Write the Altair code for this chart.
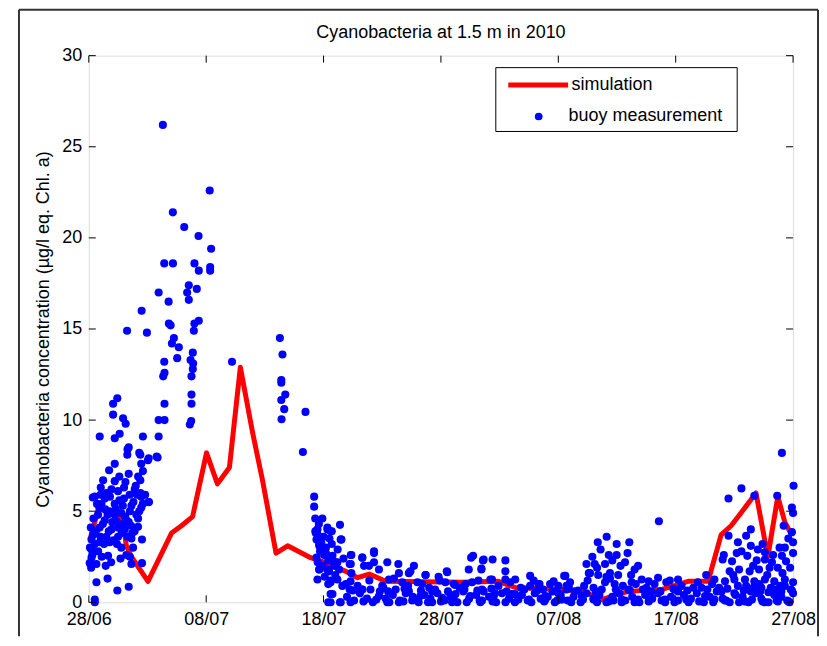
import altair as alt
import pandas as pd

# ---------------- data (days since 28/06/2010) ----------------
chart_title = "Cyanobacteria at 1.5 m in 2010"
x_tick_days = [0, 10, 20, 30, 40, 50, 60]
x_tick_labels = ["28/06", "08/07", "18/07", "28/07", "07/08", "17/08", "27/08"]
y_tick_values = [0, 5, 10, 15, 20, 25, 30]

sim_day = [0.1, 0.8, 2.5, 3.0, 3.2, 3.63, 5.04, 7.05, 7.9, 8.84, 10.03, 10.96, 11.98,
           12.91, 13.96, 14.8, 15.95, 16.94, 18.9, 20.05, 21.9, 22.9, 23.9, 25.3, 31.8,
           34.9, 36.4, 40.3, 42.3, 43.67, 45.96, 48.77, 51.06, 52.76, 53.87, 54.72,
           55.56, 56.84, 57.85, 58.7, 59.3, 59.8]
sim_val = [3.45, 5.1, 5.0, 4.0, 3.1, 2.5, 1.15, 3.8, 4.2, 4.7, 8.2, 6.5, 7.4,
           12.9, 9.3, 6.7, 2.7, 3.1, 2.45, 2.2, 1.7, 1.35, 1.55, 1.15, 1.1,
           1.15, 0.8, 0.7, 0.55, 0.15, 0.6, 0.7, 1.15, 1.15, 3.7, 4.2,
           4.9, 6.0, 2.5, 5.8, 4.4, 3.8]

buoy_early_high = [
    [6.31, 26.2], [10.3, 22.6], [7.16, 21.4], [8.13, 20.6], [9.35, 20.1], [10.42, 19.4],
    [6.43, 18.6], [7.17, 18.6], [9.0, 18.6], [9.37, 18.2], [10.34, 18.4], [10.34, 18.2],
    [8.52, 17.4], [9.2, 17.2], [8.38, 17.0], [8.52, 16.6], [5.95, 17.0], [6.8, 16.5],
    [4.5, 16.0], [6.82, 15.3], [6.97, 15.2], [9.0, 15.3], [9.37, 15.45], [8.95, 14.9],
    [3.26, 14.9], [4.95, 14.8], [7.25, 14.5], [7.08, 14.2], [7.67, 14.0], [8.86, 13.7],
    [6.43, 13.2], [7.53, 13.4], [8.67, 13.3], [8.89, 13.1], [8.86, 12.8], [6.45, 12.6],
    [6.34, 12.4], [8.75, 12.4], [12.2, 13.2], [8.75, 11.4], [8.75, 10.9], [6.45, 10.9],
    [2.43, 11.2], [2.07, 10.9], [2.07, 10.3], [2.92, 10.1], [3.14, 9.8], [5.95, 10.0],
    [6.45, 10.0], [8.72, 9.95], [8.61, 9.76], [0.93, 9.1], [2.21, 9.0], [2.63, 9.25],
    [4.61, 9.1], [5.95, 9.1], [3.4, 8.5],
]

buoy_early_cluster = [
    [3.28, 8.1], [4.39, 8.1], [5.04, 7.8], [5.78, 8.0], [4.47, 7.6], [2.21, 7.6],
    [1.73, 7.25], [4.61, 7.2], [3.4, 7.05], [1.22, 6.7], [2.21, 6.65], [3.12, 6.6],
    [4.39, 6.7], [1.02, 6.3], [1.93, 6.2], [2.49, 6.1], [3.91, 6.2], [3.48, 5.9],
    [0.51, 5.8], [1.36, 5.7], [3.0, 5.7], [4.47, 5.8], [5.12, 5.5], [1.08, 5.4],
    [2.21, 5.4], [3.63, 5.3], [4.47, 5.2], [1.78, 5.0], [2.77, 4.9], [4.05, 4.8],
    [0.79, 4.8], [1.36, 4.5], [3.2, 4.5], [2.35, 4.45], [0.17, 4.1], [0.93, 4.1],
    [1.93, 4.0], [3.06, 4.0], [4.19, 4.15], [0.37, 3.7], [1.5, 3.6], [2.49, 3.6],
    [3.63, 3.5], [4.53, 3.45], [0.23, 3.45], [0.93, 3.3], [1.78, 3.3], [2.77, 3.0],
    [3.77, 3.0], [0.23, 2.9], [0.79, 2.8], [1.64, 2.55], [3.2, 2.6], [0.23, 2.45],
    [0.65, 2.1], [1.44, 2.0], [3.63, 2.1], [4.53, 2.15], [0.08, 2.15], [0.65, 1.1],
    [2.43, 0.65], [3.4, 0.85], [0.51, 0.15], [0.51, 0.0], [0.34, 5.75], [5.1, 7.9],
    [5.86, 7.95], [4.3, 8.2], [3.3, 8.4], [5.1, 5.5],
    [0.4, 4.6], [0.6, 3.9], [0.9, 5.2], [1.2, 4.3], [1.3, 3.2], [1.6, 4.8], [1.8, 5.8],
    [2.0, 4.4], [2.1, 3.4], [2.3, 5.1], [2.5, 4.1], [2.6, 5.6], [2.8, 3.8], [2.9, 5.3],
    [3.1, 4.7], [3.3, 3.6], [3.5, 5.0], [3.6, 4.2], [3.8, 5.5], [3.9, 3.9], [4.1, 5.9],
    [4.2, 4.6], [4.4, 6.0], [4.6, 5.4], [0.1, 3.0], [0.3, 2.6], [1.1, 2.5], [1.9, 2.2],
    [2.7, 2.4], [3.5, 2.5], [4.0, 6.4], [4.2, 6.9], [1.5, 6.0], [1.0, 5.9], [2.6, 6.9],
    [3.0, 6.3], [1.6, 1.3], [0.2, 1.9],
    [0.7, 5.4], [1.4, 5.1], [2.2, 4.8], [2.4, 3.2], [3.4, 4.4], [3.7, 3.8], [4.3, 5.0],
    [1.0, 3.6], [1.7, 3.9], [0.5, 3.2], [2.9, 4.3], [4.8, 5.9],
]

buoy_mid_july = [
    [16.28, 14.5], [16.5, 13.6], [16.4, 12.2], [16.4, 12.05], [16.74, 11.4], [16.4, 11.1],
    [16.65, 10.6], [16.42, 10.05], [18.46, 10.45], [18.24, 8.25], [19.2, 5.8], [19.2, 5.25],
    [19.29, 4.6], [19.48, 4.0], [20.33, 4.0], [20.6, 3.9], [21.4, 4.25], [21.52, 3.45],
    [19.4, 3.45], [19.63, 3.1], [20.2, 3.0], [19.4, 2.45], [20.05, 2.6], [20.76, 2.55],
    [21.04, 2.2], [22.37, 2.6], [22.23, 2.1], [23.3, 2.45], [23.45, 2.0], [19.63, 1.8],
    [20.47, 1.7], [21.32, 1.8], [19.48, 1.25], [20.4, 1.0], [21.18, 1.25], [21.9, 1.0],
    [22.23, 0.7], [22.37, 1.6], [23.3, 0.7], [20.76, 0.45], [20.4, 0.0], [21.4, 0.0],
    [20.9, 2.0], [19.5, 3.7], [19.8, 3.3], [20.0, 3.6], [19.7, 2.8], [20.4, 2.3],
    [19.9, 2.0], [20.7, 3.2], [19.3, 3.9], [19.6, 4.3], [20.1, 1.4], [21.0, 1.5],
    [20.6, 1.2], [19.9, 4.6], [20.5, 3.5], [21.2, 2.9], [21.7, 2.4], [19.5, 2.2],
    [20.3, 1.8],
]

buoy_late_july = [
    [19.34, 3.8], [20.33, 4.1], [21.46, 3.45], [19.63, 3.2], [20.2, 2.7], [21.18, 2.2],
    [22.32, 2.6], [22.32, 2.1], [19.63, 1.8], [20.6, 1.1], [21.6, 0.9], [22.3, 1.15],
    [20.6, 0.45], [20.6, 0.0], [21.46, 0.0], [23.3, 2.45], [24.3, 2.7], [24.3, 2.2],
    [23.87, 2.0], [23.3, 0.7], [24.72, 1.8], [25.43, 2.2], [24.72, 0.35], [25.0, 0.9],
    [25.57, 1.25], [26.37, 2.1], [26.42, 1.6], [27.7, 2.0], [27.27, 1.6], [26.7, 1.1],
    [26.14, 0.7], [27.27, 0.6], [25.43, 0.0], [26.42, 0.0], [27.55, 0.1], [28.68, 1.5],
    [28.4, 1.0], [28.25, 0.35], [29.25, 0.6], [29.25, 0.0], [30.53, 1.65], [30.38, 1.1],
    [30.1, 0.25], [31.1, 1.0], [31.24, 0.45], [30.95, 0.0], [32.57, 2.45], [32.37, 1.8],
    [32.65, 1.1], [32.5, 0.35], [33.64, 2.35], [33.45, 1.8], [34.4, 2.35], [34.21, 1.25],
    [33.64, 0.6], [34.5, 0.35], [33.36, 0.0], [32.74, 2.55], [33.58, 2.3], [35.49, 2.3],
    [35.49, 1.7], [34.35, 1.25], [35.49, 1.25], [36.33, 1.25], [37.6, 1.45], [37.6, 0.9],
    [38.3, 1.0], [39.6, 1.15], [40.6, 1.45], [40.7, 0.9], [41.4, 0.6], [42.4, 2.1],
    [42.6, 1.6], [36.3, 0.45], [37.5, 0.15], [38.9, 0.15], [40.3, 0.15], [28.7, 1.5],
    [29.8, 1.4], [30.5, 1.7], [31.2, 0.95], [27.4, 1.7], [24.3, 2.8], [21.5, 3.45],
    [20.7, 3.9],
]

buoy_august = [
    [48.57, 4.45], [44.12, 3.6], [43.36, 3.3], [44.97, 3.2], [46.05, 3.3], [33.45, 1.85],
    [44.3, 2.6], [44.97, 2.6], [43.1, 2.1], [43.98, 2.1], [45.68, 2.2], [46.5, 1.8],
    [42.7, 1.6], [43.4, 1.5], [44.4, 1.6], [45.1, 1.5], [43.98, 1.1], [44.8, 1.0],
    [43.0, 0.8], [43.0, 0.15], [40.5, 1.45], [38.4, 1.0], [40.9, 0.8], [46.25, 1.1],
    [47.1, 1.25], [47.7, 1.15], [48.5, 1.35], [49.2, 1.1], [49.9, 0.7], [46.0, 0.7],
    [47.9, 0.6], [33.5, 0.7], [34.6, 0.5], [36.05, 0.45], [38.9, 0.35], [40.0, 0.5],
    [42.0, 0.35], [44.7, 0.1], [45.4, 0.0], [46.8, 0.15], [49.1, 0.15],
    [42.9, 2.5], [43.6, 2.9], [44.6, 2.3], [45.3, 2.0], [45.9, 2.7], [43.3, 1.9],
    [44.1, 1.4], [46.2, 1.5], [42.5, 1.2], [46.8, 2.0],
    [59.05, 8.2], [60.04, 6.4], [55.6, 6.25], [54.5, 5.7], [56.7, 5.85], [58.65, 5.85],
    [59.9, 5.2], [60.0, 4.9], [59.2, 4.2], [59.9, 3.85], [56.4, 4.0], [56.0, 3.65],
    [54.5, 3.65], [56.4, 3.1], [57.4, 3.2], [58.85, 3.0], [59.3, 3.0], [60.0, 3.3],
    [60.0, 2.7], [54.1, 2.6], [55.2, 2.7], [55.6, 2.8], [56.1, 2.55], [57.6, 2.75],
    [59.05, 2.55], [54.0, 2.35], [54.8, 2.25], [56.9, 2.3], [57.6, 2.35], [58.2, 2.2],
    [59.4, 2.25], [54.6, 1.7], [55.4, 1.8], [56.3, 1.7], [57.1, 1.8], [58.0, 1.9],
    [58.7, 1.9], [59.75, 1.9], [52.6, 1.5], [53.3, 1.25], [54.2, 1.15], [55.0, 1.25],
    [55.9, 1.25], [56.7, 1.15], [57.6, 1.25], [58.4, 1.15], [59.3, 1.25], [60.0, 1.1],
    [53.9, 0.6], [55.0, 0.5], [56.4, 0.6], [57.9, 0.55], [59.0, 0.6], [60.0, 0.5],
    [54.2, 0.1], [55.9, 0.05], [57.4, 0.05], [58.7, 0.05], [59.6, 0.05], [51.5, 0.8],
    [50.2, 1.25], [50.2, 0.6], [51.1, 0.0], [52.5, 0.35], [53.3, 0.15],
    [55.3, 3.3], [57.0, 2.9], [58.3, 2.6], [59.6, 3.5], [56.6, 2.0], [57.8, 1.5],
    [59.1, 1.6], [54.9, 1.5], [58.9, 0.9], [56.0, 0.9], [57.3, 0.8],
]

buoy_low_band = [
    [22.0, 0.3], [22.6, 0.1], [23.1, 0.5], [23.7, 0.2], [24.2, 0.0], [24.8, 0.6],
    [25.3, 0.2], [25.9, 0.4], [26.5, 0.1], [27.0, 0.5], [27.6, 0.3], [28.1, 0.0],
    [28.6, 0.4], [29.1, 0.2], [29.7, 0.5], [30.3, 0.1], [30.8, 0.3], [31.4, 0.0],
    [31.9, 0.6], [32.4, 0.2], [33.0, 0.4], [33.5, 0.1], [34.1, 0.3], [34.7, 0.0],
    [35.2, 0.5], [35.8, 0.2], [36.3, 0.0], [36.9, 0.4], [37.4, 0.1], [38.0, 0.5],
    [38.5, 0.2], [39.1, 0.3], [39.7, 0.0], [40.2, 0.4], [40.8, 0.1], [41.3, 0.3],
    [41.9, 0.0], [42.4, 0.5], [43.0, 0.2], [43.5, 0.4], [44.1, 0.0], [44.6, 0.3],
    [45.2, 0.5], [45.7, 0.1], [46.3, 0.3], [46.9, 0.0], [47.4, 0.4], [48.0, 0.2],
    [48.5, 0.5], [49.1, 0.0], [49.6, 0.3], [50.2, 0.1], [50.7, 0.4], [51.3, 0.2],
    [51.8, 0.5], [52.4, 0.0], [52.9, 0.3], [53.5, 0.6], [54.0, 0.2], [54.6, 0.0],
    [55.1, 0.4], [55.7, 0.3], [56.2, 0.0], [56.8, 0.5], [57.3, 0.2], [57.9, 0.0],
    [58.4, 0.4], [59.0, 0.3], [59.5, 0.1],
    [22.9, 0.9], [23.9, 1.2], [25.1, 0.8], [26.0, 1.3], [27.2, 0.9], [28.0, 1.1],
    [29.0, 0.8], [29.9, 1.2], [31.6, 0.8], [32.1, 1.0], [33.2, 1.2], [34.9, 0.9],
    [35.9, 1.1], [36.8, 0.8], [37.9, 1.2], [38.7, 0.7], [39.3, 1.0], [40.0, 0.9],
    [41.0, 1.1], [42.2, 0.9], [43.7, 0.7], [44.4, 1.3], [45.5, 0.9], [46.6, 1.0],
    [47.5, 0.8], [48.2, 1.0], [49.5, 1.2], [50.5, 0.9], [51.9, 1.1], [52.2, 0.8],
    [53.1, 1.0], [53.7, 0.8], [55.3, 0.9], [56.6, 0.8], [57.1, 1.0], [58.1, 0.8],
    [59.3, 0.9], [59.8, 0.7],
    [22.3, 0.0], [23.4, 0.05], [24.5, 0.15], [25.6, 0.0], [26.8, 0.05], [27.9, 0.15],
    [28.9, 0.0], [30.0, 0.05], [31.1, 0.15], [32.2, 0.0], [33.3, 0.1], [34.4, 0.05],
    [35.5, 0.0], [36.6, 0.15], [37.7, 0.0], [38.8, 0.05], [39.9, 0.1], [41.1, 0.0],
    [42.1, 0.15], [43.3, 0.0], [44.3, 0.05], [45.4, 0.15], [46.5, 0.0], [47.7, 0.05],
    [48.8, 0.1], [49.9, 0.0], [50.9, 0.15], [52.0, 0.05], [53.2, 0.0], [54.3, 0.1],
    [55.4, 0.0], [56.5, 0.15], [57.6, 0.0], [58.6, 0.1], [59.7, 0.0],
    [22.5, 0.65], [24.0, 0.7], [25.5, 0.6], [26.9, 0.75], [28.3, 0.65], [29.5, 0.7],
    [30.6, 0.6], [32.0, 0.7], [33.1, 0.65], [34.3, 0.75], [35.6, 0.6], [37.1, 0.7],
    [38.2, 0.65], [39.5, 0.6], [40.7, 0.7], [41.7, 0.65], [43.2, 0.6], [44.9, 0.7],
    [46.1, 0.65], [47.2, 0.7], [48.7, 0.6], [49.8, 0.75], [51.0, 0.65], [52.7, 0.7],
    [54.4, 0.75], [55.8, 0.65], [57.2, 0.6], [58.5, 0.7], [59.9, 0.65],
]

# ---------------- tables ----------------
buoy_all = (buoy_early_high + buoy_early_cluster + buoy_mid_july +
            buoy_late_july + buoy_august + buoy_low_band)
buoy_df = pd.DataFrame(buoy_all, columns=["day", "value"])
buoy_df["series"] = "buoy measurement"
sim_df = pd.DataFrame({"day": sim_day, "value": sim_val, "series": "simulation"})
xt_df = pd.DataFrame({"day": x_tick_days})
yt_df = pd.DataFrame({"value": y_tick_values})

W, H = 706, 548
FONT = "Liberation Sans"

label_array = "[" + ",".join("'%s'" % s for s in x_tick_labels) + "]"
x_scale = alt.Scale(domain=[0, 60], nice=False, zero=False)
y_scale = alt.Scale(domain=[0, 30], nice=False)

x_axis = alt.Axis(values=x_tick_days, labelExpr=label_array + "[round(datum.value/10)]",
                  ticks=False, domain=False, grid=False, labelFontSize=18, labelFont=FONT,
                  labelColor="black", labelPadding=8, labelFlush=False, title=None)
y_axis = alt.Axis(values=y_tick_values, format="d", ticks=False, domain=False, grid=False,
                  labelFontSize=18, labelFont=FONT, labelColor="black", labelPadding=7,
                  labelFlush=False,
                  title="Cyanobacteria concentration (µg/l eq. Chl. a)",
                  titleFontSize=18, titleFont=FONT, titleFontWeight="normal",
                  titleColor="black", titlePadding=9)

one_row = alt.InlineData(values=[{"a": 1}])

line = alt.Chart(sim_df).mark_line(strokeWidth=5, strokeJoin="round").encode(
    x=alt.X("day:Q", scale=x_scale, axis=x_axis),
    y=alt.Y("value:Q", scale=y_scale, axis=y_axis),
    stroke=alt.Stroke("series:N",
                      scale=alt.Scale(domain=["simulation"], range=["#ff0000"]),
                      legend=alt.Legend(orient="none", legendX=418, legendY=-3, title=None,
                                        symbolType="stroke", symbolSize=3600,
                                        symbolStrokeWidth=5, labelFontSize=18,
                                        labelFont=FONT, labelColor="black",
                                        labelOffset=1, padding=0)),
)

points = alt.Chart(buoy_df).mark_circle(size=66, opacity=1).encode(
    x=alt.X("day:Q", scale=x_scale),
    y=alt.Y("value:Q", scale=y_scale),
    fill=alt.Fill("series:N",
                  scale=alt.Scale(domain=["buoy measurement"], range=["#0000ff"]),
                  legend=alt.Legend(orient="none", legendX=442, legendY=52, title=None,
                                    symbolType="circle", symbolSize=60, symbolOpacity=1,
                                    symbolStrokeWidth=0, labelFontSize=18,
                                    labelFont=FONT, labelColor="black",
                                    labelOffset=21, padding=0)),
)

legend_box = alt.Chart(one_row).mark_rect(fill="white", stroke="black", strokeWidth=1).encode(
    x=alt.value(408), x2=alt.value(650), y=alt.value(12), y2=alt.value(76))

title_text = alt.Chart(one_row).mark_text(
    text=chart_title, font=FONT, fontSize=18, color="black",
    align="center", baseline="alphabetic").encode(x=alt.value(W / 2), y=alt.value(-18))

tick_bottom = alt.Chart(xt_df).mark_rule(color="black", strokeWidth=1).encode(
    x=alt.X("day:Q", scale=x_scale), y=alt.value(H), y2=alt.value(H - 7))
tick_top = alt.Chart(xt_df).mark_rule(color="black", strokeWidth=1).encode(
    x=alt.X("day:Q", scale=x_scale), y=alt.value(0), y2=alt.value(7))
tick_left = alt.Chart(yt_df).mark_rule(color="black", strokeWidth=1).encode(
    y=alt.Y("value:Q", scale=y_scale), x=alt.value(0), x2=alt.value(7))
tick_right = alt.Chart(yt_df).mark_rule(color="black", strokeWidth=1).encode(
    y=alt.Y("value:Q", scale=y_scale), x=alt.value(W - 7), x2=alt.value(W))

frame_left = alt.Chart(one_row).mark_rule(color="#333333", strokeWidth=2).encode(
    x=alt.value(-70), y=alt.value(-46), y2=alt.value(582))
frame_right = alt.Chart(one_row).mark_rule(color="#333333", strokeWidth=2).encode(
    x=alt.value(731), y=alt.value(-46), y2=alt.value(582))
frame_top = alt.Chart(one_row).mark_rule(color="#333333", strokeWidth=2).encode(
    x=alt.value(-70), x2=alt.value(731), y=alt.value(-46))

chart = alt.layer(
    frame_left, frame_right, frame_top, title_text,
    line, points, legend_box,
    tick_bottom, tick_top, tick_left, tick_right,
).resolve_scale(stroke="independent", fill="independent").properties(
    width=W, height=H,
    padding={"left": 10, "top": 0, "right": 0, "bottom": 0},
).configure_view(stroke="black", strokeWidth=1).configure(background="white")

chart.save("out.html", embed_options={"renderer": "svg", "actions": False})
